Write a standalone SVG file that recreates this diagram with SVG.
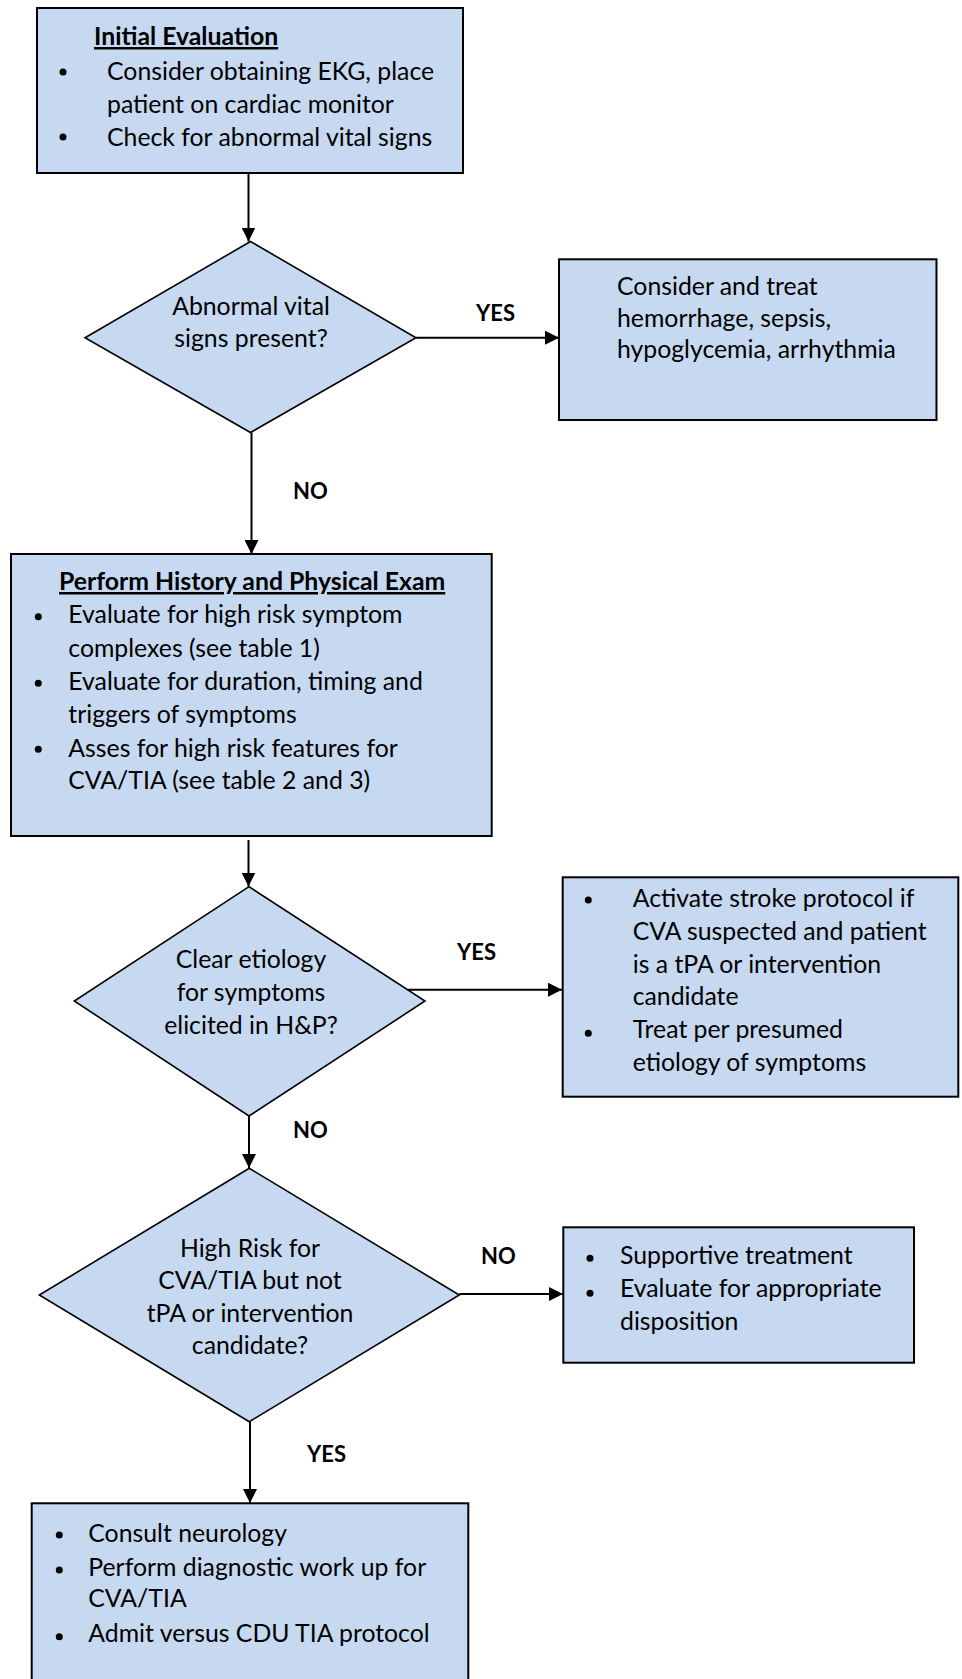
<svg xmlns="http://www.w3.org/2000/svg" width="962" height="1679" viewBox="0 0 962 1679">
<style>
.bg{fill:#ffffff}
.box{fill:#c6d9f1;stroke:#000;stroke-width:2}
.dia{fill:#c6d9f1;stroke:#000;stroke-width:1.6}
.t{font-family:Lato,"Liberation Sans",sans-serif;font-size:24.8px;fill:#000}
.b{font-weight:bold}
.u{text-decoration:underline}
.m{text-anchor:middle}
.lbl{font-family:Lato,"Liberation Sans",sans-serif;font-size:22px;font-weight:bold;fill:#000}
.dot{fill:#000}
.con{stroke:#000;stroke-width:2;fill:none;marker-end:url(#ah)}
</style>
<defs>
<marker id="ah" markerUnits="userSpaceOnUse" markerWidth="14" markerHeight="14" refX="14" refY="7" orient="auto">
<path d="M0,0 L14,7 L0,14 z" fill="#000"/>
</marker>
</defs>
<rect class="bg" x="0" y="0" width="962" height="1679"/>

<g id="connectors">
<line class="con" x1="248.5" y1="173" x2="248.5" y2="241.5"/>
<line class="con" x1="416" y1="337.7" x2="559" y2="337.7"/>
<line class="con" x1="251.5" y1="432.5" x2="251.5" y2="554"/>
<line class="con" x1="248.5" y1="840" x2="248.5" y2="886.5"/>
<line class="con" x1="408" y1="989.7" x2="562" y2="989.7"/>
<line class="con" x1="249" y1="1116" x2="249" y2="1168"/>
<line class="con" x1="459.3" y1="1294" x2="563" y2="1294"/>
<line class="con" x1="250" y1="1421.7" x2="250" y2="1503"/>
<text class="lbl" x="476" y="321">YES</text>
<text class="lbl" x="293" y="499">NO</text>
<text class="lbl" x="457" y="960">YES</text>
<text class="lbl" x="293" y="1138">NO</text>
<text class="lbl" x="481" y="1264">NO</text>
<text class="lbl" x="307" y="1462">YES</text>
</g>

<g id="initial-evaluation">
<rect class="box" x="37" y="8" width="426" height="165"/>
<text class="t b u" x="94" y="45">Initial Evaluation</text>
<circle class="dot" cx="63" cy="72" r="3.5"/>
<text class="t" x="107" y="80">Consider obtaining EKG, place</text>
<text class="t" x="107" y="113">patient on cardiac monitor</text>
<circle class="dot" cx="63" cy="137" r="3.5"/>
<text class="t" x="107" y="145.5">Check for abnormal vital signs</text>
</g>

<g id="abnormal-vitals">
<polygon class="dia" points="250.5,241.5 416,337.7 250.5,432.5 85,337.7"/>
<text class="t m" x="251" y="315">Abnormal vital</text>
<text class="t m" x="251" y="346.5">signs present?</text>
</g>

<g id="treat-causes">
<rect class="box" x="559" y="259.3" width="377.5" height="160.7"/>
<text class="t" x="617" y="295">Consider and treat</text>
<text class="t" x="617" y="326.7">hemorrhage, sepsis,</text>
<text class="t" x="617" y="358.3">hypoglycemia, arrhythmia</text>
</g>

<g id="history-physical">
<rect class="box" x="11" y="554" width="480.7" height="282"/>
<text class="t b u" x="59" y="590">Perform History and Physical Exam</text>
<circle class="dot" cx="38.3" cy="616.7" r="3.5"/>
<text class="t" x="68.3" y="623.3">Evaluate for high risk symptom</text>
<text class="t" x="68.3" y="656.7">complexes (see table 1)</text>
<circle class="dot" cx="38.3" cy="683.3" r="3.5"/>
<text class="t" x="68.3" y="690">Evaluate for duration, timing and</text>
<text class="t" x="68.3" y="722.7">triggers of symptoms</text>
<circle class="dot" cx="38.3" cy="749.3" r="3.5"/>
<text class="t" x="68.3" y="756.7">Asses for high risk features for</text>
<text class="t" x="68.3" y="789.3">CVA/TIA (see table 2 and 3)</text>
</g>

<g id="clear-etiology">
<polygon class="dia" points="249,886.7 425,1001 249,1116 74.3,1001"/>
<text class="t m" x="251" y="968.3">Clear etiology</text>
<text class="t m" x="251" y="1000.7">for symptoms</text>
<text class="t m" x="251" y="1034.3">elicited in H&amp;P?</text>
</g>

<g id="stroke-protocol">
<rect class="box" x="562.7" y="877.3" width="395.6" height="219.4"/>
<circle class="dot" cx="588.3" cy="900" r="3.5"/>
<text class="t" x="632.7" y="906.7">Activate stroke protocol if</text>
<text class="t" x="632.7" y="940">CVA suspected and patient</text>
<text class="t" x="632.7" y="972.7">is a tPA or intervention</text>
<text class="t" x="632.7" y="1005.3">candidate</text>
<circle class="dot" cx="588.3" cy="1033.3" r="3.5"/>
<text class="t" x="632.7" y="1038.3">Treat per presumed</text>
<text class="t" x="632.7" y="1071">etiology of symptoms</text>
</g>

<g id="high-risk">
<polygon class="dia" points="249.3,1168.3 459.3,1295 249.3,1421.7 39.3,1295"/>
<text class="t m" x="250" y="1257.3">High Risk for</text>
<text class="t m" x="250" y="1289.3">CVA/TIA but not</text>
<text class="t m" x="250" y="1321.7">tPA or intervention</text>
<text class="t m" x="250" y="1354">candidate?</text>
</g>

<g id="supportive">
<rect class="box" x="563.3" y="1227.3" width="350.7" height="135.4"/>
<circle class="dot" cx="590" cy="1258.3" r="3.5"/>
<text class="t" x="620" y="1264">Supportive treatment</text>
<circle class="dot" cx="590" cy="1293.3" r="3.5"/>
<text class="t" x="620" y="1297.3">Evaluate for appropriate</text>
<text class="t" x="620" y="1330">disposition</text>
</g>

<g id="neurology">
<rect class="box" x="31.7" y="1503.3" width="436.6" height="200"/>
<circle class="dot" cx="59.3" cy="1535" r="3.5"/>
<text class="t" x="88.3" y="1541.7">Consult neurology</text>
<circle class="dot" cx="59.3" cy="1570" r="3.5"/>
<text class="t" x="88.3" y="1576">Perform diagnostic work up for</text>
<text class="t" x="88.3" y="1607.3">CVA/TIA</text>
<circle class="dot" cx="59.3" cy="1636.7" r="3.5"/>
<text class="t" x="88.3" y="1641.7">Admit versus CDU TIA protocol</text>
</g>
</svg>
